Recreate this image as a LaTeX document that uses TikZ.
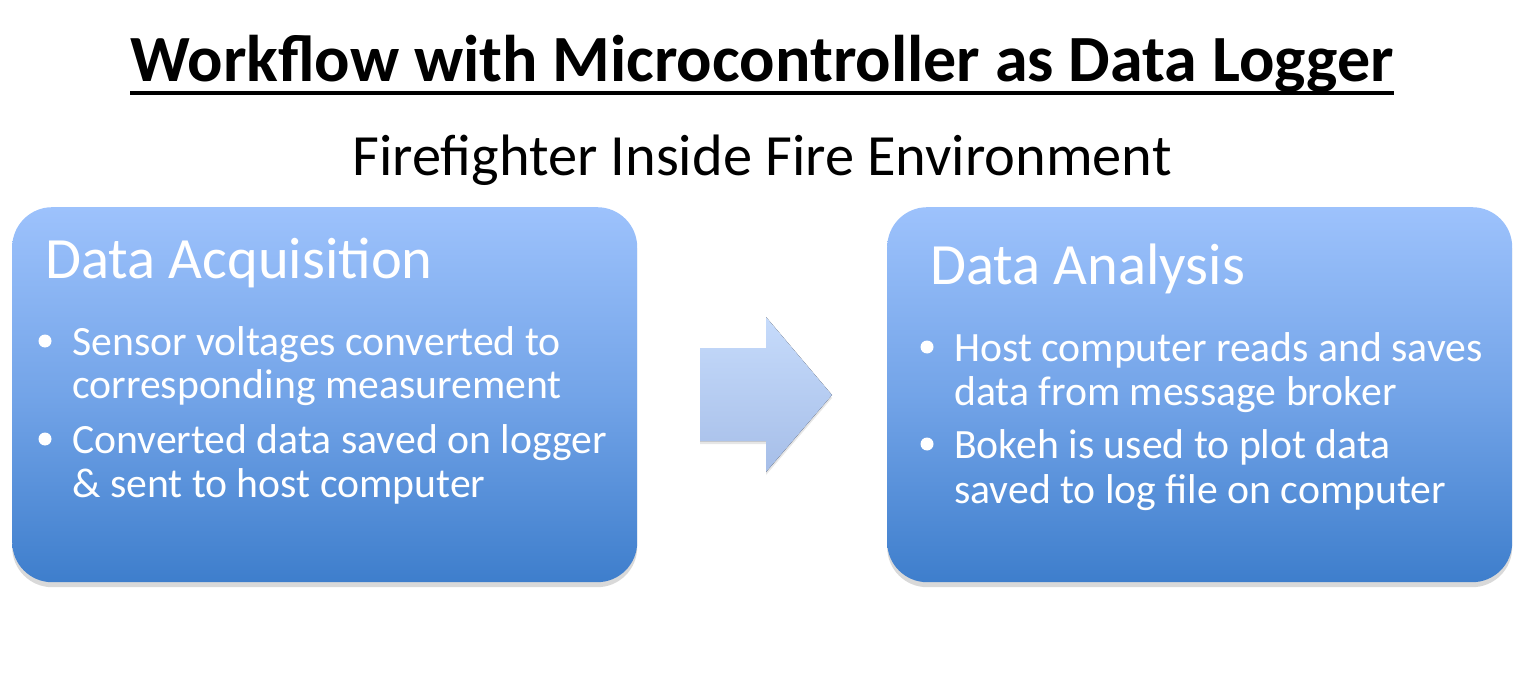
\documentclass[tikz,border=0pt]{standalone}
\usepackage{fontspec}
\setmainfont{Carlito}
\usetikzlibrary{positioning,shadows}

\definecolor{boxtop}{RGB}{157,194,252}
\definecolor{boxmid}{RGB}{115,164,232}
\definecolor{boxbot}{RGB}{62,126,204}
\definecolor{arrtop}{RGB}{198,219,251}
\definecolor{arrbot}{RGB}{166,190,232}

\begin{document}
\begin{tikzpicture}[x=1pt,y=-1pt,
    stagebox/.style={rounded corners=40pt,minimum width=625pt,minimum height=375pt,
      anchor=north west,inner sep=0pt,top color=boxtop,bottom color=boxbot,middle color=boxmid,
      drop shadow={opacity=.3,shadow xshift=0pt,shadow yshift=-5pt}},
    stagehead/.style={text=white,font=\fontsize{58.5}{62}\selectfont,anchor=base west,inner sep=0pt},
    stageline/.style={text=white,font=\fontsize{41.7}{44}\selectfont,anchor=base west,inner sep=0pt},
    dot/.style={circle,fill=white,inner sep=0pt,minimum size=13pt}]
                  \useasboundingbox (0,0) rectangle (1523,676);
                  % titles
                  \node[font=\bfseries\fontsize{66}{70}\selectfont,anchor=base,inner sep=0pt] (title) at (762,82) {Workflow with Microcontroller as Data Logger};
                  \draw[line width=3.5pt] ([yshift=-11pt]title.base west)--([yshift=-11pt]title.base east);
                  \node[font=\fontsize{58.4}{62}\selectfont,anchor=base,inner sep=0pt] (scene) at (762,176) {Firefighter Inside Fire Environment};
                  % boxes
                  \node[stagebox] (acq) at (12,207) {};
                  \node[stagebox] (ana) at (887,207) {};
                  % arrow
                  \fill[top color=arrtop,bottom color=arrbot,drop shadow={opacity=.2,shadow xshift=0pt,shadow yshift=-3pt}]
                     (700,348)--(766,348)--(766,317)--(832,395)--(766,472)--(766,441)--(700,441)--cycle;
                  % data acquisition
                  \node[stagehead] (acqhead) at ([shift={(33,72)}]acq.north west) {Data Acquisition};
                  \foreach \t/\dy [count=\i] in {Sensor voltages converted to/148,corresponding measurement/191,
                      Converted data saved on logger/246,\& sent to host computer/290}
                     \node[stageline] (acq-\i) at ([shift={(60,\dy)}]acq.north west) {\t};
                  \node[dot] (acqdot1) at ([shift={(33,134)}]acq.north west) {};
                  \node[dot] (acqdot2) at ([shift={(33,232)}]acq.north west) {};
                  % data analysis
                  \node[stagehead] (anahead) at ([shift={(43,77)}]ana.north west) {Data Analysis};
                  \foreach \t/\dy [count=\i] in {Host computer reads and saves/154,data from message broker/198,
                      Bokeh is used to plot data/251,saved to log file on computer/296}
                     \node[stageline] (ana-\i) at ([shift={(67,\dy)}]ana.north west) {\t};
                  \node[dot] (anadot1) at ([shift={(40,140)}]ana.north west) {};
                  \node[dot] (anadot2) at ([shift={(40,237)}]ana.north west) {};
              \end{tikzpicture}
\end{document}
